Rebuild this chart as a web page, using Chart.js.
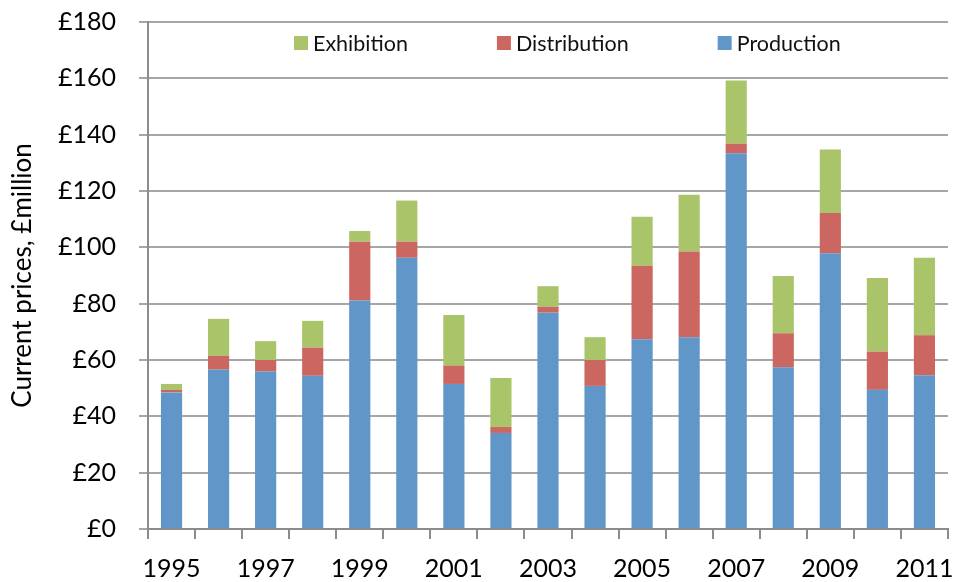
<!DOCTYPE html>
<html>
<head>
<meta charset="utf-8">
<script src="https://cdn.jsdelivr.net/npm/chart.js@4/dist/chart.umd.min.js"></script>
<style>
  html, body { margin: 0; padding: 0; background: #fff; }
  #wrap { width: 969px; height: 582px; }
</style>
</head>
<body>
<div id="wrap"><canvas id="c" width="969" height="582"></canvas></div>
<script>
// Years on the category axis
const years = ['1995','1996','1997','1998','1999','2000','2001','2002','2003',
               '2004','2005','2006','2007','2008','2009','2010','2011'];

// Spend by sector, current prices (£ million)
const production   = [48.5, 56.6, 55.9, 54.4, 81.1, 96.3, 51.5, 34.1, 76.8, 50.8, 67.4, 68.1, 133.4, 57.4, 97.9, 49.4, 54.6];
const distribution = [0.9, 4.9, 4.1, 10.0, 20.9, 5.7, 6.5, 2.1, 2.1, 9.2, 26.1, 30.4, 3.4, 12.1, 14.3, 13.6, 14.2];
const exhibition   = [2.1, 13.1, 6.7, 9.5, 3.8, 14.6, 18.0, 17.4, 7.3, 8.1, 17.4, 20.2, 22.4, 20.3, 22.5, 26.1, 27.5];

// Value-axis tick values
const yTicks = [0, 20, 40, 60, 80, 100, 120, 140, 160, 180];

const FONT = 'Lato, "Liberation Sans", sans-serif';
const AXIS_GREY = '#8c8c8c';

// Legend drawn inside the plot area, top series first
const innerLegend = {
  id: 'innerLegend',
  afterDraw(chart) {
    const ctx = chart.ctx;
    const area = chart.chartArea;
    const items = chart.data.datasets.slice().reverse();
    ctx.save();
    ctx.font = '21.5px ' + FONT;
    ctx.textBaseline = 'middle';
    let x = area.left + 146;
    const yc = area.top + 21;
    items.forEach(ds => {
      ctx.fillStyle = ds.backgroundColor;
      ctx.fillRect(x, yc - 7, 14, 14);
      x += 19;
      ctx.fillStyle = '#111';
      ctx.fillText(ds.label, x, yc + 1);
      x += ctx.measureText(ds.label).width + 89;
    });
    ctx.restore();
  }
};

new Chart(document.getElementById('c'), {
  type: 'bar',
  data: {
    labels: years,
    datasets: [
      { label: 'Production',   data: production,   backgroundColor: '#6096c8' },
      { label: 'Distribution', data: distribution, backgroundColor: '#cc6660' },
      { label: 'Exhibition',   data: exhibition,   backgroundColor: '#aac46a' }
    ]
  },
  options: {
    responsive: false,
    animation: false,
    devicePixelRatio: 1,
    layout: { padding: { top: 22, right: 19, left: 0, bottom: 0 } },
    datasets: {
      bar: {
        barPercentage: 0.45,
        categoryPercentage: 1,
        borderWidth: 0
      }
    },
    plugins: {
      legend: { display: false },
      tooltip: { enabled: false }
    },
    scales: {
      x: {
        stacked: true,
        afterFit: axis => { axis.height = 53; },
        grid: {
          display: true,
          drawOnChartArea: false,
          drawTicks: true,
          tickLength: 10,
          color: AXIS_GREY,
          lineWidth: 2
        },
        border: { display: true, color: AXIS_GREY, width: 2 },
        ticks: {
          autoSkip: false,
          maxRotation: 0,
          padding: 15,
          color: '#000',
          font: { family: FONT, size: 25 },
          callback: function (v, i) { return i % 2 === 0 ? years[i] : ''; }
        }
      },
      y: {
        stacked: true,
        min: 0,
        max: 180,
        afterBuildTicks: axis => { axis.ticks = yTicks.map(v => ({ value: v })); },
        afterFit: axis => {
          axis.width = 148;
          axis.paddingTop = 0;
          axis.paddingBottom = 0;
        },
        grid: {
          color: '#a6a6a6',
          lineWidth: 2,
          drawTicks: true,
          tickLength: 9
        },
        border: { display: true, color: AXIS_GREY, width: 2 },
        ticks: {
          padding: 23,
          color: '#000',
          font: { family: FONT, size: 25 },
          callback: v => '£' + v
        },
        title: {
          display: true,
          text: 'Current prices, £million',
          color: '#000',
          font: { family: FONT, size: 26 },
          padding: { top: 7, bottom: 1 }
        }
      }
    }
  },
  plugins: [innerLegend]
});
</script>
</body>
</html>
